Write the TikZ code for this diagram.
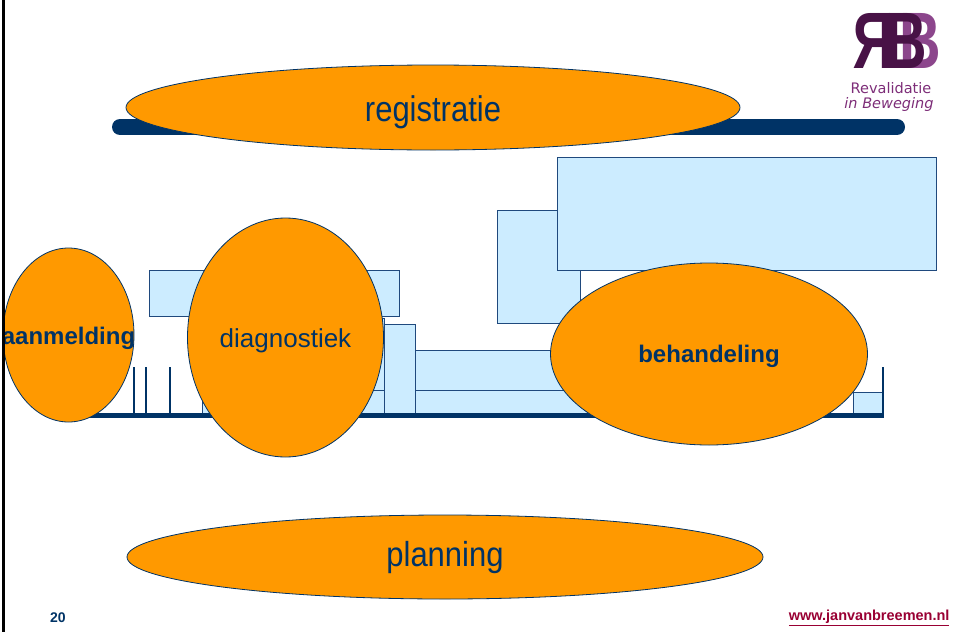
\documentclass[tikz,border=0pt]{standalone}
\usepackage{fontspec}
\setmainfont{Liberation Sans}
\newfontfamily\logofont{DejaVu Sans}
\usepackage{xcolor}
\usetikzlibrary{shapes.geometric}

\definecolor{navy}{RGB}{0,51,102}
\definecolor{boxline}{RGB}{31,73,125}
\definecolor{boxfill}{RGB}{204,236,255}
\definecolor{blobfill}{RGB}{255,153,0}
\definecolor{urlred}{RGB}{153,0,51}
\definecolor{plumdark}{RGB}{72,18,70}
\definecolor{plumlight}{RGB}{140,70,140}
\definecolor{plumtext}{RGB}{125,45,120}

\begin{document}
\begin{tikzpicture}[x=1pt, y=-1pt,
    blob/.style={ellipse, draw=navy, line width=0.8pt, fill=blobfill, inner sep=0pt},
    bar/.style={fill=boxfill, draw=boxline, line width=1pt},
    lbl/.style={text=navy, font=\fontsize{#1}{#1}\selectfont},
    lblb/.style={text=navy, font=\fontsize{#1}{#1}\selectfont\bfseries},
    logotxt/.style={text=plumtext, inner sep=0pt, font=\logofont\fontsize{14.5}{14.5}\selectfont#1},
    logotxt/.default={}]
    \useasboundingbox (0,0) rectangle (959,632);

    % logo
    \node[inner sep=0pt, font=\fontsize{80}{80}\selectfont\bfseries] (mark) at (890,41)
        {\scalebox{0.72}[1]{\textcolor{plumdark}{\reflectbox{R}}\kern-12pt\rlap{\kern19pt\textcolor{plumlight}{B}}\textcolor{plumdark}{B}}};
    \node[logotxt] (rev) at (891,88.5) {Revalidatie};
    \node[logotxt=\itshape] (beweg) at (889,104) {in Beweging};

    % registratie
    \draw[navy, line width=16pt, line cap=round] (120,127) -- (897,127);
    \node[blob, minimum width=614pt, minimum height=85pt,
        label={[lbl=31, yshift=-5pt]center:\scalebox{1}[1.15]{registratie}}] (reg) at (433,107.5) {};

    % boxes
    \draw[bar] (202,390) rectangle (820,413);
    \draw[bar] (300,318) rectangle (384,390);
    \draw[bar] (415,350) rectangle (600,390);
    \draw[bar] (149,270) rectangle (399,316);
    \draw[bar] (384,324) rectangle (415,414);
    \draw[bar] (497,210) rectangle (580,323);
    \draw[bar] (557,157) rectangle (936,270);
    \draw[bar] (853,392) rectangle (883,414);
    \foreach \tx in {134,146,170}
        \draw[navy, line width=1.2pt] (\tx,367) -- (\tx,413);
    \draw[navy, line width=1.2pt] (883,367) -- (883,414);
    \draw[navy, line width=4.5pt] (60,415.5) -- (884,415.5);

    % ellipses
    \node[blob, minimum width=131pt, minimum height=174pt,
        label={[lblb=24, yshift=-3pt]center:aanmelding}] (aanm) at (68.5,335) {};
    \node[blob, minimum width=196pt, minimum height=239pt,
        label={[lbl=26, yshift=-3pt]center:diagnostiek}] (diag) at (285.5,337.5) {};
    \node[blob, minimum width=317pt, minimum height=182pt,
        label={[lblb=24, yshift=-2pt]center:behandeling}] (beh) at (709,354) {};
    \node[blob, minimum width=636pt, minimum height=84pt,
        label={[lbl=31, yshift=-1pt]center:\scalebox{1}[1.12]{planning}}] (plan) at (445,557) {};

    % footer
    \node[lblb=14] (page) at (58,618) {20};
    \node[anchor=east, text=urlred, font=\fontsize{14.5}{14.5}\selectfont\bfseries] (url) at (953,618) {\underline{www.janvanbreemen.nl}};

    \draw[line width=3pt] (3.5,0) -- (3.5,632);
\end{tikzpicture}
\end{document}
